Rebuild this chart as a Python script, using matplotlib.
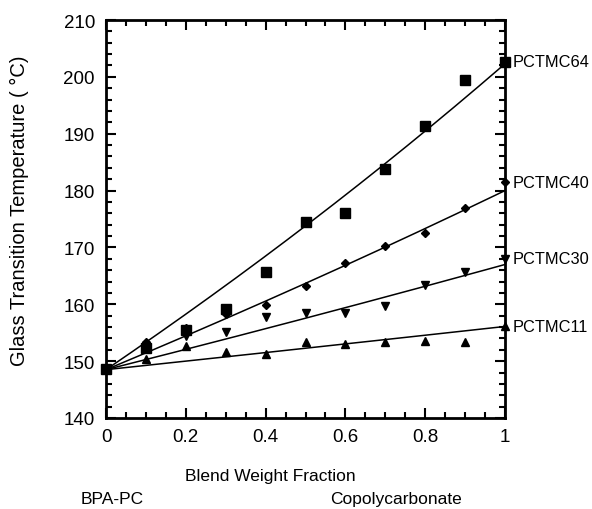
import numpy as np
import matplotlib
matplotlib.use("Agg")
import matplotlib.pyplot as plt
from matplotlib.ticker import MultipleLocator

plt.rcParams['font.family'] = ['Liberation Sans', 'DejaVu Sans']

# blend weight fraction of copolycarbonate
frac = [0.0, 0.1, 0.2, 0.3, 0.4, 0.5, 0.6, 0.7, 0.8, 0.9, 1.0]

# measured Tg (deg C)
tg_64 = [148.6, 152.3, 155.5, 159.2, 165.7, 174.5, 176.1, 183.8, 191.4, 199.5, 202.7]
tg_40 = [148.6, 153.4, 155.8, 158.3, 159.9, 163.2, 167.3, 170.3, 172.5, 176.9, 181.5]
tg_30 = [148.6, 152.6, 154.5, 155.1, 157.7, 158.4, 158.4, 159.7, 163.4, 165.7, 168.0]
tg_11 = [148.6, 150.4, 152.7, 151.6, 151.3, 153.3, 153.1, 153.3, 153.5, 153.3, 156.1]

names = ['PCTMC64', 'PCTMC40', 'PCTMC30', 'PCTMC11']
markers = ['s', 'D', 'v', '^']
msizes = [7, 4.5, 6, 6]

# Fox equation fit: Tg of BPA-PC and fitted Tg of each copolycarbonate
tg_pc = 148.5
tg_fit = [202.3, 180.0, 167.0, 156.1]

fig = plt.figure(figsize=(5.92, 5.10), dpi=100)
ax = fig.add_axes([106/592, 91/510, 399/592, 398/510])

w = np.linspace(0, 1, 200)
for data, name, m, ms, tg2 in zip([tg_64, tg_40, tg_30, tg_11], names, markers, msizes, tg_fit):
    fox = 1.0/((1 - w)/(tg_pc + 273.15) + w/(tg2 + 273.15)) - 273.15
    ax.plot(w, fox, color='black', lw=1.1, clip_on=False)
    ax.plot(frac, data, ls='none', marker=m, ms=ms, color='black', clip_on=False, zorder=3)
    ax.text(1.018, data[-1], name, fontsize=11.8, va='center', ha='left')

ax.set_xlim(0, 1)
ax.set_ylim(140, 210)
ax.xaxis.set_minor_locator(MultipleLocator(0.05))
ax.yaxis.set_major_locator(MultipleLocator(10))
ax.yaxis.set_minor_locator(MultipleLocator(2))
ax.set_xticks([0, 0.2, 0.4, 0.6, 0.8, 1.0])
ax.set_xticklabels(['0', '0.2', '0.4', '0.6', '0.8', '1'])

ax.tick_params(which='both', direction='in', top=True, right=True, width=1.5, labelsize=13.5)
ax.tick_params(which='major', length=7)
ax.tick_params(which='minor', length=4)
ax.tick_params(axis='x', pad=7)
ax.tick_params(axis='y', pad=8)
for s in ax.spines.values():
    s.set_linewidth(2)

fig.text(19/592, 1 - 211/510, 'Glass Transition Temperature ( °C)', fontsize=14.5,
         rotation=90, ha='center', va='center')
fig.text(270/592, 1 - 477/510, 'Blend Weight Fraction', fontsize=12.5, ha='center', va='center')
fig.text(112/592, 1 - 500/510, 'BPA-PC', fontsize=12.5, ha='center', va='center')
fig.text(396/592, 1 - 500/510, 'Copolycarbonate', fontsize=12.5, ha='center', va='center')

fig.savefig('out.png', dpi=100)
